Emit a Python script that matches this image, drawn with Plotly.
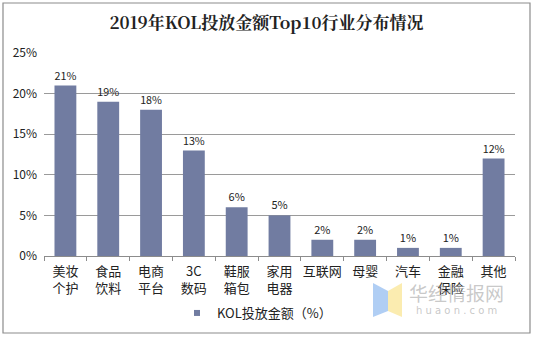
import plotly.graph_objects as go

# KOL spend share by industry, 2019 (top 10 + others)
categories = ["美妆<br>个护", "食品<br>饮料", "电商<br>平台", "3C<br>数码", "鞋服<br>箱包",
              "家用<br>电器", "互联网", "母婴", "汽车", "金融<br>保险", "其他"]
values = [21, 19, 18, 13, 6, 5, 2, 2, 1, 1, 12]
y_ticks = [0, 5, 10, 15, 20, 25]
y_tick_labels = ["0%", "5%", "10%", "15%", "20%", "25%"]
series_name = "KOL投放金额（%）"

W, H = 533, 337
L, R, T, B = 44, 18, 53, 81
PW, PH = W - L - R, H - T - B
bar_color = "#717CA1"
sans = "Microsoft YaHei, Noto Sans CJK SC, sans-serif"


def px(x, y):
    """Pixel position -> paper (plot-area) fraction."""
    return (x - L) / PW, (H - B - y) / PH


fig = go.Figure()
fig.add_trace(go.Bar(
    x=categories, y=values,
    name=series_name, showlegend=False,
    marker=dict(color=bar_color, line=dict(width=0)),
    text=[f"{v}%" for v in values],
    textposition="outside",
    textfont=dict(family=sans, size=11, color="#222222"),
    cliponaxis=False,
))
# legend entry with a small square swatch
fig.add_trace(go.Scatter(
    x=[None], y=[None], mode="markers", name=series_name,
    marker=dict(symbol="square", size=6, color=bar_color),
    showlegend=True,
))

# watermark logo (two panels) and text
bx = [(373, 283), (388, 291), (388, 311), (373, 317)]
yx = [(388, 291), (402, 283), (402, 317), (388, 311)]
shapes = []
for pts, col in [(bx, "rgba(150,190,240,0.75)"), (yx, "rgba(250,230,150,0.75)")]:
    p = [px(*q) for q in pts]
    path = "M " + " L ".join(f"{a},{b}" for a, b in p) + " Z"
    shapes.append(dict(type="path", xref="paper", yref="paper", path=path,
                       fillcolor=col, line=dict(width=0), layer="below"))
# outer border
x0, y1 = px(3, 3)
x1, y0 = px(530, 333)
shapes.append(dict(type="rect", xref="paper", yref="paper",
                   x0=x0, x1=x1, y0=y0, y1=y1,
                   line=dict(color="#8c8c8c", width=1.2), fillcolor="rgba(0,0,0,0)"))

wx1, wy1 = px(456, 292)
wx2, wy2 = px(456, 310)
annotations = [
    dict(text="华经情报网", x=wx1, y=wy1, xref="paper", yref="paper",
         xanchor="center", yanchor="middle", showarrow=False,
         font=dict(family=sans, size=19, color="rgba(165,165,165,0.6)")),
    dict(text="h u a o n . c o m", x=wx2, y=wy2, xref="paper", yref="paper",
         xanchor="center", yanchor="middle", showarrow=False,
         font=dict(family="DejaVu Sans", size=10, color="rgba(175,175,175,0.7)")),
]

lx, ly = px(177, 313)
fig.update_layout(
    width=W, height=H,
    margin=dict(l=L, r=R, t=T, b=B, autoexpand=False),
    paper_bgcolor="white", plot_bgcolor="white",
    title=dict(text="<b>2019年KOL投放金额Top10行业分布情况</b>",
               x=0.5, xanchor="center", y=1 - 23 / H, yanchor="middle",
               font=dict(family="Noto Serif CJK SC, Noto Sans CJK SC, serif", size=17, color="#222222")),
    bargap=0.49,
    showlegend=True,
    legend=dict(orientation="h", x=lx, xanchor="left", y=ly, yanchor="middle",
                font=dict(family=sans, size=13, color="#222222"),
                itemsizing="trace", bgcolor="rgba(0,0,0,0)"),
    shapes=shapes,
    annotations=annotations,
)
fig.update_xaxes(
    showline=True, linecolor="#8c8c8c", linewidth=1,
    ticks="outside", tickson="boundaries", ticklen=4, tickcolor="#8c8c8c",
    tickangle=0, ticklabelstandoff=3,
    tickfont=dict(family=sans, size=13, color="#222222"),
    showgrid=False,
)
fig.update_yaxes(
    range=[0, 25], tickvals=y_ticks, ticktext=y_tick_labels,
    showgrid=True, gridcolor="#9a9a9a", gridwidth=1,
    zeroline=False, showline=False,
    tickfont=dict(family=sans, size=12, color="#222222"),
    ticks="", ticklabelstandoff=6,
)

fig.write_html("out.html")
